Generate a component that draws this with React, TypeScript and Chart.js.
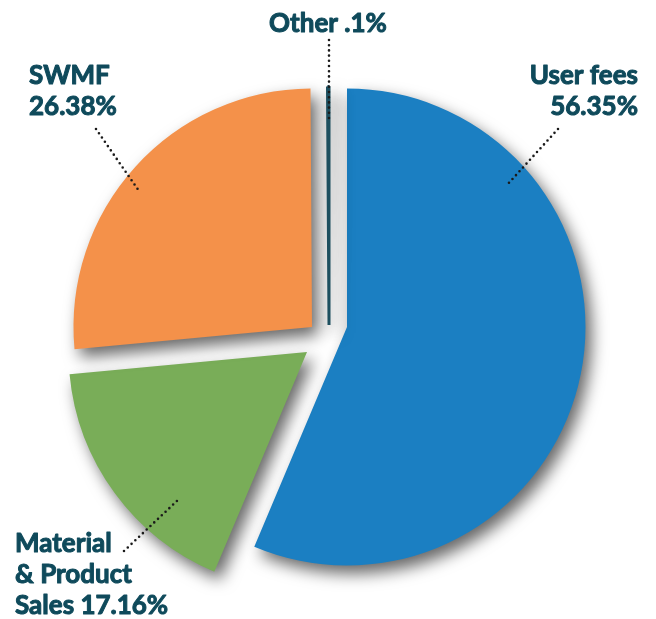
import React, { useEffect, useRef } from "react";
import { Chart, registerables } from "chart.js";

Chart.register(...registerables);

const CATEGORIES = ["User fees", "Material & Product Sales", "SWMF", "Other"];
const VALUES = [56.35, 17.16, 26.38, 0.1];
const LABEL_LINES = [
  ["User fees", "56.35%"],
  ["Material", "& Product", "Sales 17.16%"],
  ["SWMF", "26.38%"],
  ["Other .1%"],
];

const COLORS = ["#1b7fc2", "#79ad58", "#f4914a", "#1d4f5f"];
const TEXT_COLOR = "#0f4a5b";
const FONT = "bold 26px Lato";
// exploded-slice displacement (px) for each slice
const EXPLODE: [number, number][] = [
  [0, 0],
  [-40, 25],
  [-35, 0],
  [-18, -2],
];
// label layout: anchor x, first baseline y, alignment, leader line
const LABEL_LAYOUT = [
  { x: 638, y: 84, align: "right", lead: [558, 129, 507, 185] },
  { x: 15, y: 552, align: "left", lead: [124, 551, 179, 499] },
  { x: 29, y: 84, align: "left", lead: [96, 129, 139, 191] },
  { x: 328, y: 32, align: "center", lead: [329, 40, 329, 119] },
];
const LINE_GAP = 31;

const explodePlugin = {
  id: "explode",
  afterDatasetsUpdate(chart: any) {
    const meta = chart.getDatasetMeta(0);
    meta.data.forEach((arc: any, i: number) => {
      arc.x += EXPLODE[i][0];
      arc.y += EXPLODE[i][1];
    });
  },
};

const shadowPlugin = {
  id: "shadow",
  beforeDatasetsDraw(chart: any) {
    const ctx = chart.ctx;
    ctx.save();
    ctx.shadowColor = "rgba(0,0,0,0.6)";
    ctx.shadowBlur = 16;
    ctx.shadowOffsetX = 6;
    ctx.shadowOffsetY = 8;
  },
  afterDatasetsDraw(chart: any) {
    chart.ctx.restore();
  },
};

const labelPlugin = {
  id: "labels",
  afterDraw(chart: any) {
    const ctx = chart.ctx;
    ctx.save();
    LABEL_LAYOUT.forEach((l, i) => {
      const [x1, y1, x2, y2] = l.lead;
      ctx.beginPath();
      ctx.setLineDash([0, 5.2]);
      ctx.lineCap = "round";
      ctx.lineWidth = 2.6;
      ctx.strokeStyle = "#1a1a1a";
      ctx.moveTo(x1, y1);
      ctx.lineTo(x2, y2);
      ctx.stroke();
      ctx.setLineDash([]);
      ctx.font = FONT;
      ctx.fillStyle = TEXT_COLOR;
      ctx.strokeStyle = TEXT_COLOR;
      ctx.lineWidth = 1;
      ctx.lineJoin = "round";
      ctx.textAlign = l.align;
      ctx.textBaseline = "alphabetic";
      LABEL_LINES[i].forEach((t, j) => {
        ctx.fillText(t, l.x, l.y + j * LINE_GAP);
        ctx.strokeText(t, l.x, l.y + j * LINE_GAP);
      });
    });
    ctx.restore();
  },
};

export default function App() {
  const ref = useRef<HTMLCanvasElement>(null);
  useEffect(() => {
    document.body.style.margin = "0";
    const chart = new Chart(ref.current!, {
      type: "pie",
      data: {
        labels: CATEGORIES,
        datasets: [
          {
            data: VALUES,
            backgroundColor: COLORS,
            borderColor: COLORS,
            borderWidth: [0, 0, 0, 3],
          },
        ],
      },
      options: {
        responsive: false,
        animation: false,
        layout: { padding: { left: 107, top: 87, right: 69, bottom: 52 } },
        plugins: { legend: { display: false }, tooltip: { enabled: false } },
        events: [],
      },
      plugins: [explodePlugin, shadowPlugin, labelPlugin],
    });
    return () => chart.destroy();
  }, []);
  return (
    <div style={{ width: 656, height: 619, background: "#fff" }}>
      <canvas ref={ref} width={656} height={619} style={{ display: "block" }} />
    </div>
  );
}
